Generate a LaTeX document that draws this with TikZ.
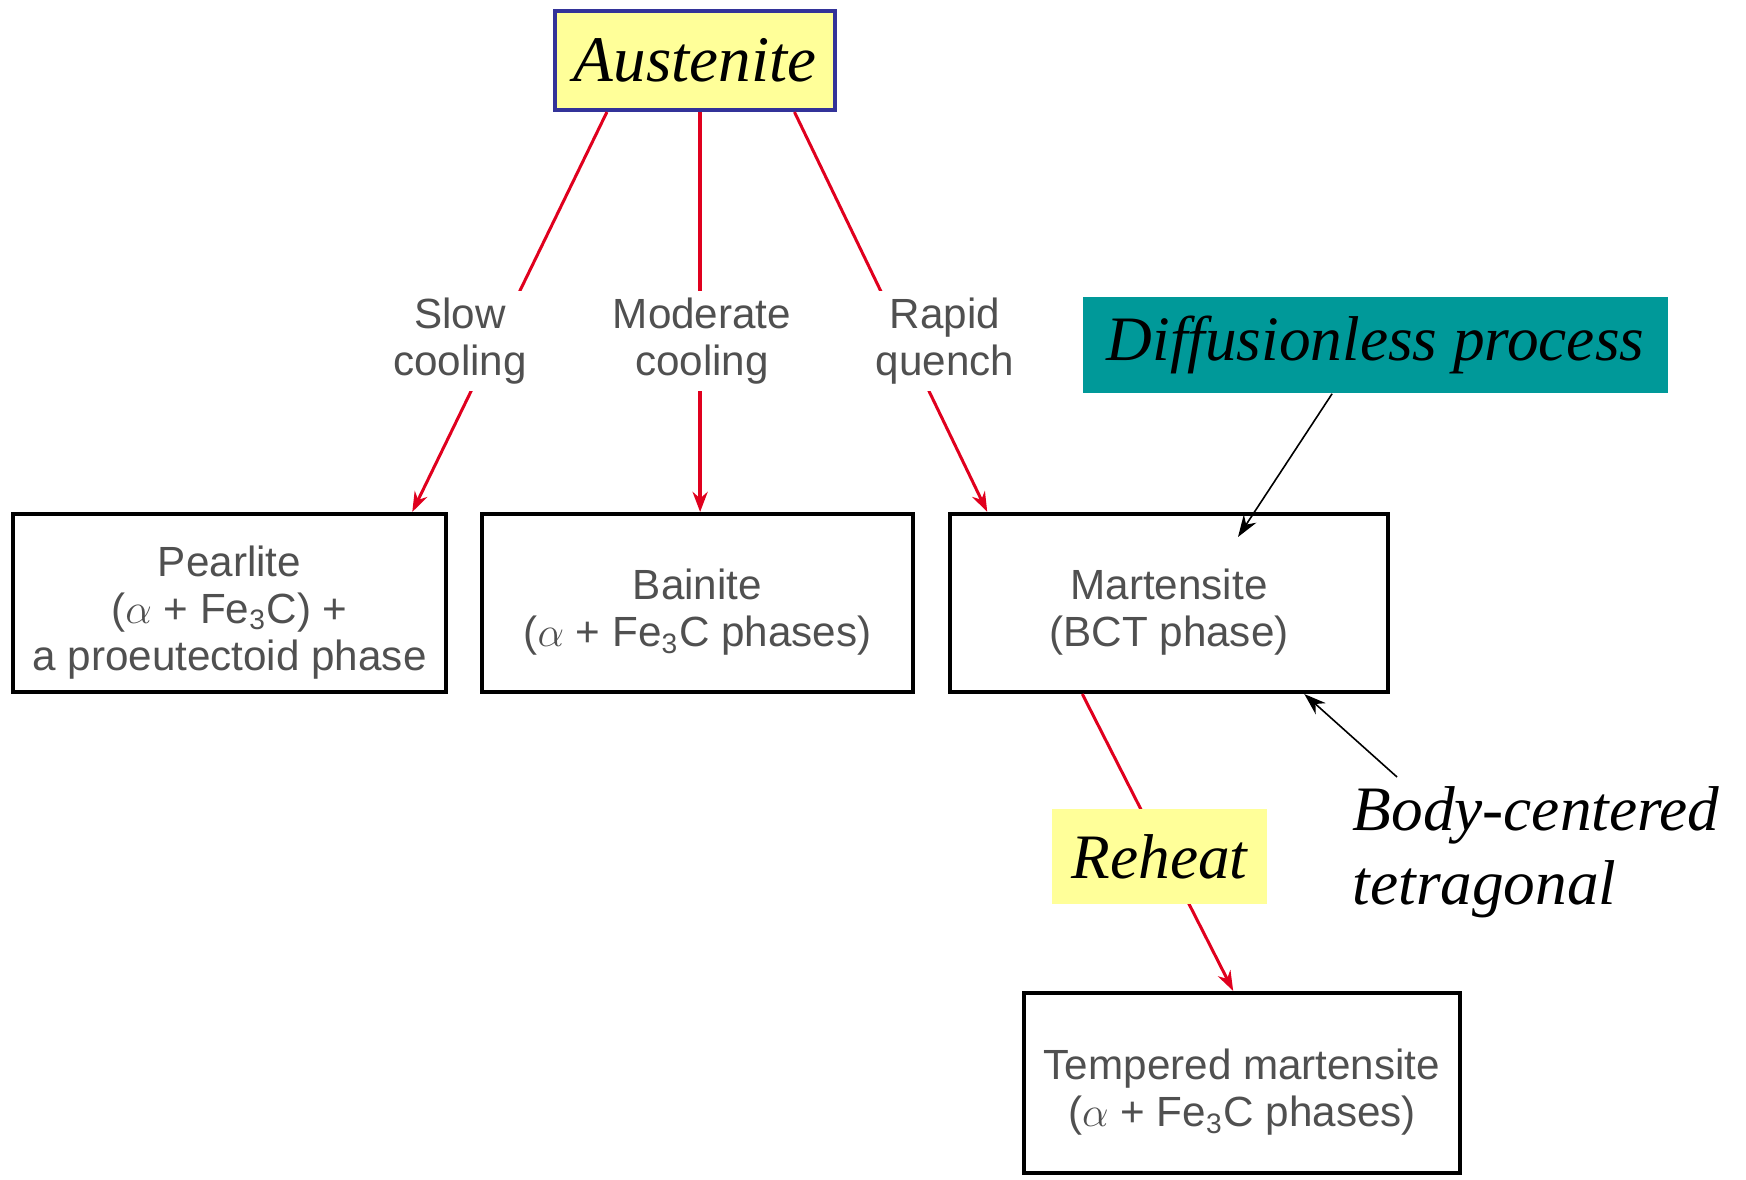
\documentclass[tikz,border=0pt]{standalone}
\usepackage{fontspec}
\setmainfont{Liberation Serif}
\newfontfamily\labfont{Liberation Sans}
\usetikzlibrary{arrows.meta,calc}
\definecolor{redline}{RGB}{224,0,30}
\definecolor{austfill}{RGB}{255,255,153}
\definecolor{austborder}{RGB}{51,51,153}
\definecolor{tealbox}{RGB}{0,153,153}
\definecolor{labgray}{RGB}{80,80,80}
\begin{document}
\begin{tikzpicture}[x=0.01cm,y=-0.01cm,
  phasebox/.style={draw=black,line width=0.04cm,fill=white,inner sep=0pt,align=center,
    font=\labfont\fontsize{12}{13.4}\selectfont,text=labgray},
  coollabel/.style={fill=white,inner sep=2pt,align=center,
    font=\labfont\fontsize{12}{13.2}\selectfont,text=labgray},
  redarrow/.style={draw=redline,line width=0.03cm,-{Stealth[length=0.2cm,width=0.14cm]}},
  redmain/.style={draw=redline,line width=0.04cm,-{Stealth[length=0.2cm,width=0.15cm]}},
  blackarrow/.style={draw=black,line width=0.016cm,-{Stealth[length=0.22cm,width=0.15cm]}},
  callout/.style={inner sep=0pt,font=\itshape\fontsize{18}{21}\selectfont}]
\useasboundingbox[fill=white] (0,0) rectangle (1746,1179);

% boxes
\node[draw=austborder,line width=0.04cm,fill=austfill,inner sep=0pt,
  minimum width=2.80cm,minimum height=0.99cm,font=\itshape\fontsize{18.5}{22}\selectfont]
  (aus) at (695,60.5) {Austenite};
\node[phasebox,minimum width=4.33cm,minimum height=1.78cm] (pearl) at (229.5,603)
  {\rule{0pt}{14pt}Pearlite\\($\alpha$ + Fe\textsubscript{3}C) +\\a proeutectoid phase};
\node[phasebox,minimum width=4.31cm,minimum height=1.78cm] (bain) at (697.5,603)
  {\rule{0pt}{14pt}Bainite\\($\alpha$ + Fe\textsubscript{3}C phases)};
\node[phasebox,minimum width=4.38cm,minimum height=1.78cm] (mart) at (1169,603)
  {\rule{0pt}{14pt}Martensite\\(BCT phase)};
\node[phasebox,minimum width=4.36cm,minimum height=1.80cm] (temp) at (1242,1083)
  {\rule{0pt}{14pt}Tempered martensite\\($\alpha$ + Fe\textsubscript{3}C phases)};
\node[fill=tealbox,minimum width=5.85cm,minimum height=0.96cm,callout] (diff) at (1375.5,345)
  {Diffusionless process};

% red connectors
\coordinate (s1) at ($(aus.south west)!0.19!(aus.south east)$);
\coordinate (e1) at ($(pearl.north west)!0.918!(pearl.north east)$);
\coordinate (s2) at ($(aus.south west)!0.518!(aus.south east)$);
\coordinate (s3) at ($(aus.south west)!0.85!(aus.south east)$);
\coordinate (e3) at ($(mart.north west)!0.089!(mart.north east)$);
\coordinate (s4) at ($(mart.south west)!0.304!(mart.south east)$);
\coordinate (e4) at ($(temp.north west)!0.48!(temp.north east)$);
\draw[redarrow] (s1) -- (e1);
\draw[redmain] (s2) -- (s2 |- bain.north);
\draw[redarrow] (s3) -- (e3);
\draw[redarrow] (s4) -- (e4);

% labels on connectors
\node[coollabel] (slow) at (460,341) {Slow\\cooling};
\node[coollabel] (moder) at (702,341) {Moderate\\cooling};
\node[coollabel] (rapid) at (945,341) {Rapid\\quench};
\node[fill=austfill,minimum width=2.15cm,minimum height=0.95cm,callout] (reheat) at (1159.5,856.5) {Reheat};

% callouts
\node[callout,align=left,anchor=north west] (bct) at (1352,786) {Body-centered\\tetragonal};
\coordinate (dtip) at (1238,537);
\coordinate (btail) at (1397,777);
\draw[blackarrow] ($(diff.south west)!0.426!(diff.south east)$) -- (dtip);
\draw[blackarrow] (btail) -- ($(mart.south west)!0.806!(mart.south east)$);
\end{tikzpicture}
\end{document}
